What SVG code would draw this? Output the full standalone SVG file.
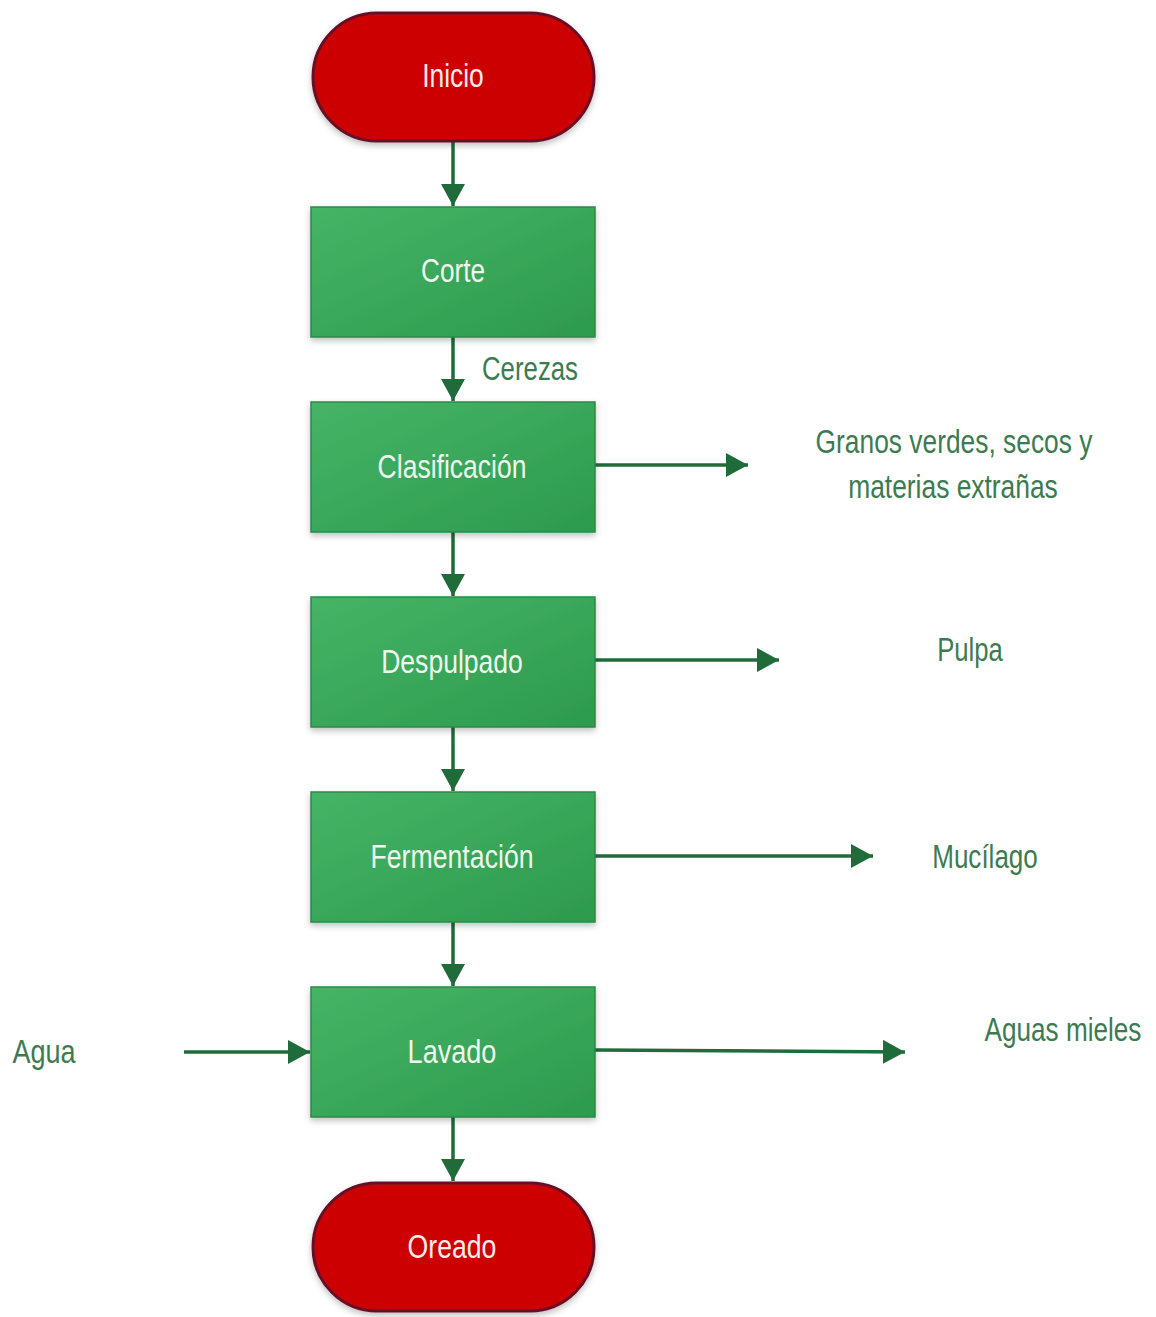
<svg xmlns="http://www.w3.org/2000/svg" width="1156" height="1317" viewBox="0 0 1156 1317">
<defs>
<linearGradient id="gg" x1="0" y1="0" x2="1" y2="1">
<stop offset="0" stop-color="#46b466"/>
<stop offset="1" stop-color="#2d9a4e"/>
</linearGradient>
<marker id="ah" markerWidth="24" markerHeight="24" refX="22" refY="12" orient="auto" markerUnits="userSpaceOnUse">
<path d="M0,0 L22,12 L0,24 Z" fill="#1f6b3a"/>
</marker>
<filter id="sh" x="-10%" y="-10%" width="120%" height="125%">
<feDropShadow dx="0" dy="3" stdDeviation="3" flood-color="#000" flood-opacity="0.25"/>
</filter>
</defs>
<style>
.box{fill:url(#gg);stroke:#2a8a47;stroke-width:1.5}
.term{fill:#cc0000;stroke:#6a0f25;stroke-width:3}
.nt{font-family:"Liberation Sans",Arial,sans-serif;font-size:34px;fill:#eef8ee;text-anchor:middle}
.tt{font-family:"Liberation Sans",Arial,sans-serif;font-size:34px;fill:#ffecec;text-anchor:middle}
.lb{font-family:"Liberation Sans",Arial,sans-serif;font-size:34px;fill:#3d7a52;text-anchor:middle}
.cn{stroke:#1f6b3a;stroke-width:3.5;fill:none;marker-end:url(#ah)}
</style>
<rect width="1156" height="1317" fill="#ffffff"/>
<g id="connectors">
<line class="cn" x1="453" y1="142" x2="453" y2="206"/>
<line class="cn" x1="453" y1="337" x2="453" y2="401"/>
<line class="cn" x1="453" y1="532" x2="453" y2="596"/>
<line class="cn" x1="453" y1="727" x2="453" y2="791"/>
<line class="cn" x1="453" y1="922" x2="453" y2="986"/>
<line class="cn" x1="453" y1="1117" x2="453" y2="1181"/>
<line class="cn" x1="595" y1="465" x2="748" y2="465"/>
<line class="cn" x1="595" y1="660" x2="779" y2="660"/>
<line class="cn" x1="595" y1="856" x2="873" y2="856"/>
<line class="cn" x1="595" y1="1050" x2="905" y2="1052"/>
<line class="cn" x1="184" y1="1052" x2="310" y2="1052"/>
</g>
<g id="inicio"><rect class="term" x="313" y="13" width="281" height="128" rx="64" filter="url(#sh)"/><text class="tt" transform="translate(453,87) scale(0.8,1)" textLength="77" lengthAdjust="spacingAndGlyphs">Inicio</text></g>
<g id="corte"><rect class="box" x="311" y="207" width="284" height="130" filter="url(#sh)"/><text class="nt" transform="translate(453,282) scale(0.8,1)" textLength="80" lengthAdjust="spacingAndGlyphs">Corte</text></g>
<g id="clasificacion"><rect class="box" x="311" y="402" width="284" height="130" filter="url(#sh)"/><text class="nt" transform="translate(452,478) scale(0.8,1)" textLength="186" lengthAdjust="spacingAndGlyphs">Clasificación</text></g>
<g id="despulpado"><rect class="box" x="311" y="597" width="284" height="130" filter="url(#sh)"/><text class="nt" transform="translate(452,673) scale(0.8,1)" textLength="177" lengthAdjust="spacingAndGlyphs">Despulpado</text></g>
<g id="fermentacion"><rect class="box" x="311" y="792" width="284" height="130" filter="url(#sh)"/><text class="nt" transform="translate(452,868) scale(0.8,1)" textLength="204" lengthAdjust="spacingAndGlyphs">Fermentación</text></g>
<g id="lavado"><rect class="box" x="311" y="987" width="284" height="130" filter="url(#sh)"/><text class="nt" transform="translate(452,1063) scale(0.8,1)" textLength="111" lengthAdjust="spacingAndGlyphs">Lavado</text></g>
<g id="oreado"><rect class="term" x="313" y="1183" width="281" height="128" rx="64" filter="url(#sh)"/><text class="tt" transform="translate(452,1258) scale(0.8,1)" textLength="111" lengthAdjust="spacingAndGlyphs">Oreado</text></g>
<g id="labels">
<text class="lb" transform="translate(530,380) scale(0.8,1)" textLength="120" lengthAdjust="spacingAndGlyphs">Cerezas</text>
<text class="lb" transform="translate(954,453) scale(0.8,1)" textLength="346" lengthAdjust="spacingAndGlyphs">Granos verdes, secos y</text>
<text class="lb" transform="translate(953,498) scale(0.8,1)" textLength="262" lengthAdjust="spacingAndGlyphs">materias extrañas</text>
<text class="lb" transform="translate(970,661) scale(0.8,1)" textLength="82" lengthAdjust="spacingAndGlyphs">Pulpa</text>
<text class="lb" transform="translate(985,868) scale(0.8,1)" textLength="132" lengthAdjust="spacingAndGlyphs">Mucílago</text>
<text class="lb" transform="translate(1063,1041) scale(0.8,1)" textLength="196" lengthAdjust="spacingAndGlyphs">Aguas mieles</text>
<text class="lb" transform="translate(44,1063) scale(0.8,1)" textLength="79" lengthAdjust="spacingAndGlyphs">Agua</text>
</g>
</svg>
